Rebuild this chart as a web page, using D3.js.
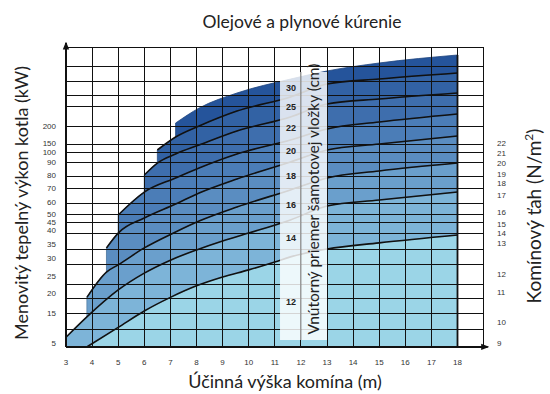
<!DOCTYPE html>
<html lang="sk">
<head>
<meta charset="UTF-8">
<title>Olejové a plynové kúrenie</title>
<script src="https://d3js.org/d3.v7.min.js"></script>
<style>
    body { margin: 0; background: #fff; }
    svg { display: block; font-family: Lato, "Open Sans", sans-serif; }
    .tick { font-family: "Liberation Sans", Arial, sans-serif; font-size: 8px; fill: #333; }
    .band-label { font-family: "Liberation Sans", Arial, sans-serif; font-size: 9px; font-weight: bold; fill: #222; }
</style>
</head>
<body>
<svg id="chart" width="550" height="394"></svg>
<script>
// vyska komina (m) - popisky osi x
const heights = d3.range(3, 19);
// vykon kotla (kW) - popisky lavej osi
const powerTicks = [5, 15, 20, 25, 30, 35, 40, 45, 50, 60, 70, 80, 90, 100, 150, 200];
// kominovy tah (N/m2) - popisky pravej osi
const draftTicks = [9, 10, 11, 12, 13, 14, 15, 16, 17, 18, 19, 20, 21, 22];
// vodorovne ciary mriezky (kW)
const gridPower = [9.5, 14.7, 18.7, 22.4, 28.1, 33.2, 38.9, 44.4, 50, 59, 70, 79, 90, 100, 144, 200, 256, 291, 332, 376, 432];
const powerMin = 3.7, powerMax = 432;

// vnutorny priemer vlozky (cm)
const diameters = [12, 14, 16, 18, 20, 22, 25, 30];
// horna hranica pasma pre kazdy priemer: [vyska m, vykon kW]
const curve12 = [[3.8, 3.7], [5, 10.2], [6, 15.5], [7, 18.9], [8, 22.1], [9, 24.7], [10, 26.7], [11, 28.9], [11.6, 30.4], [13, 33.2], [15, 35.4], [18, 38.2]];
const curve14 = [[3, 6.9], [3.8, 13.7], [5, 20.9], [6, 25.8], [7, 29.4], [8, 32.9], [9, 36.1], [10, 38.9], [11.6, 46.3], [13, 56.7], [15, 61.4], [18, 67.1]];
const curve16 = [[3.8, 18.9], [4.55, 26.1], [5, 28.1], [6, 33.6], [7.2, 39.3], [8.1, 45.6], [9.55, 55.8], [11.6, 68.6], [13, 77.7], [15, 83.1], [18, 89.2]];
const curve18 = [[4.55, 33.6], [5, 38.9], [6, 47.5], [7.2, 58.3], [8.1, 66.4], [9.55, 76.9], [11.6, 90], [13, 111.1], [15, 144.4], [18, 170.6]];
const curve20 = [[5, 49.4], [6, 67.1], [7.2, 77.7], [8.1, 85.4], [9.55, 98], [11.6, 158.8], [13, 191.2], [15, 211.8], [18, 235.3]];
const curve22 = [[6, 80], [6.5, 89.2], [7.2, 98], [8.1, 138.9], [9.55, 185.3], [11.6, 226.5], [13, 264.7], [15, 279.4], [18, 297.1]];
const curve25 = [[6.5, 111.1], [7.2, 167.6], [8.1, 200], [9.55, 244], [11.6, 285.3], [13, 323.5], [15, 338.2], [18, 355.9]];
const curve30 = [[7.2, 208.8], [8.1, 252.9], [9.55, 297], [11.6, 338], [13, 361.8], [15, 385.3], [18, 408.8]];
const curves = [curve12, curve14, curve16, curve18, curve20, curve22, curve25, curve30];

const colors = ["#9bd5e7", "#7db4d8", "#6a9fcc", "#5a8dc1", "#4b7db7", "#3e6ead", "#3262a4", "#25549b"];

const svg = d3.select("#chart");

// x os - linearna, y os - nomogram s nerovnomernym delenim
const x = d3.scaleLinear().domain([3, 19]).range([66, 483.6]);
const y = d3.scaleLinear()
    .domain(powerTicks)
    .range([343, 313, 293, 276, 258, 244, 230, 222, 214, 202, 188, 175, 162, 152, 143, 126]);
const yDraft = d3.scaleLinear()
    .domain(draftTicks)
    .range([343, 322, 292, 274, 243, 233, 224, 212, 195, 183, 174, 163, 153, 143]);

const yBottom = y(powerMin), yTop = y(powerMax);

// pasma - od najvyssieho po najnizsie, kazde az po os x
const area = d3.area()
    .x(d => x(d[0]))
    .y0(yBottom)
    .y1(d => y(d[1]))
    .curve(d3.curveMonotoneX);

for (let i = diameters.length - 1; i >= 0; i--) {
    svg.append("path")
        .datum(curves[i])
        .attr("d", area)
        .attr("fill", colors[i])
        .attr("stroke", d3.color(colors[i]).darker(0.6))
        .attr("stroke-width", 0.8);
}

// mriezka
const grid = svg.append("g")
    .attr("stroke", "#111")
    .attr("stroke-width", 1)
    .attr("shape-rendering", "crispEdges");
grid.selectAll(".v").data(d3.range(4, 20)).enter().append("line")
    .attr("x1", d => x(d)).attr("x2", d => x(d))
    .attr("y1", yBottom).attr("y2", yTop);
grid.selectAll(".h").data(gridPower).enter().append("line")
    .attr("x1", x(3)).attr("x2", x(19))
    .attr("y1", d => y(d)).attr("y2", d => y(d));

// krivky (hranice pasiem)
const line = d3.line()
    .x(d => x(d[0]))
    .y(d => y(d[1]))
    .curve(d3.curveMonotoneX);
svg.append("g").selectAll("path")
    .data(curves.slice(0, 7))
    .enter().append("path")
    .attr("d", line)
    .attr("fill", "none")
    .attr("stroke", "#111")
    .attr("stroke-width", 1.6);

// svetly pas s popisom priemerov
const stripX0 = x(11.2), stripX1 = x(13.0);
svg.append("rect")
    .attr("x", stripX0).attr("y", 72)
    .attr("width", stripX1 - stripX0).attr("height", 340 - 72)
    .attr("fill", "#fff").attr("opacity", 0.82);
svg.append("line")
    .attr("x1", x(12)).attr("x2", x(12))
    .attr("y1", 72).attr("y2", 340)
    .attr("stroke", "#333").attr("stroke-width", 1).attr("opacity", 0.6);

// hodnota krivky v pixeloch pre danu vysku
function curveY(pts, h) {
    const p = pts.map(d => [x(d[0]), y(d[1])]);
    const px = x(h);
    for (let i = 1; i < p.length; i++) {
        if (px <= p[i][0]) {
            const t = (px - p[i - 1][0]) / (p[i][0] - p[i - 1][0]);
            return p[i - 1][1] + t * (p[i][1] - p[i - 1][1]);
        }
    }
    return p[p.length - 1][1];
}

const labelH = 11.62;
diameters.forEach((d, i) => {
    const upper = curveY(curves[i], labelH);
    const lower = i === 0 ? yBottom : curveY(curves[i - 1], labelH);
    svg.append("text")
        .attr("class", "band-label")
        .attr("x", x(labelH))
        .attr("y", (upper + lower) / 2)
        .attr("dy", "0.35em")
        .attr("text-anchor", "middle")
        .text(d);
});

svg.append("text")
    .attr("transform", `translate(${x(12.7)},199) rotate(-90)`)
    .attr("text-anchor", "middle")
    .attr("font-size", 15.5)
    .attr("fill", "#222")
    .text("Vnútorný priemer šamotovej vložky (cm)");

// osi so sipkami
svg.append("defs").append("marker")
    .attr("id", "arrow")
    .attr("viewBox", "0 0 10 10")
    .attr("refX", 8).attr("refY", 5)
    .attr("markerWidth", 4).attr("markerHeight", 4)
    .attr("orient", "auto")
    .append("path").attr("d", "M0,1 L10,5 L0,9 Z").attr("fill", "#111");

svg.append("line")
    .attr("x1", x(3)).attr("x2", x(3))
    .attr("y1", yBottom).attr("y2", yTop - 4)
    .attr("stroke", "#111").attr("stroke-width", 2)
    .attr("marker-end", "url(#arrow)");
svg.append("line")
    .attr("x1", x(3)).attr("x2", x(19) + 4)
    .attr("y1", yBottom).attr("y2", yBottom)
    .attr("stroke", "#111").attr("stroke-width", 2)
    .attr("marker-end", "url(#arrow)");
svg.append("line")
    .attr("x1", x(18)).attr("x2", x(18))
    .attr("y1", yBottom).attr("y2", y(curve30[curve30.length - 1][1]))
    .attr("stroke", "#111").attr("stroke-width", 1.8);

// popisky osi
svg.selectAll(".xt").data(heights).enter().append("text")
    .attr("class", "tick")
    .attr("x", d => x(d)).attr("y", 365)
    .attr("text-anchor", "middle")
    .text(d => d);

svg.selectAll(".yt").data(powerTicks).enter().append("text")
    .attr("class", "tick")
    .attr("x", 56).attr("y", d => y(d))
    .attr("dy", "0.35em")
    .attr("text-anchor", "end")
    .text(d => d);

svg.selectAll(".rt").data(draftTicks).enter().append("text")
    .attr("class", "tick")
    .attr("x", 497).attr("y", d => yDraft(d))
    .attr("dy", "0.35em")
    .text(d => d);

// nadpisy
svg.append("text")
    .attr("x", 302).attr("y", 28)
    .attr("text-anchor", "middle")
    .attr("font-size", 17.5)
    .attr("fill", "#222")
    .text("Olejové a plynové kúrenie");

svg.append("text")
    .attr("x", 285).attr("y", 388)
    .attr("text-anchor", "middle")
    .attr("font-size", 18)
    .attr("fill", "#222")
    .text("Účinná výška komína (m)");

svg.append("text")
    .attr("transform", "translate(28,203) rotate(-90)")
    .attr("text-anchor", "middle")
    .attr("font-size", 18)
    .attr("fill", "#222")
    .text("Menovitý tepelný výkon kotla (kW)");

const rt = svg.append("text")
    .attr("transform", "translate(541,216) rotate(-90)")
    .attr("text-anchor", "middle")
    .attr("font-size", 19)
    .attr("fill", "#222");
rt.append("tspan").text("Komínový ťah (N/m");
rt.append("tspan").attr("dy", -8).attr("font-size", 12).text("2");
rt.append("tspan").attr("dy", 8).text(")");
</script>
</body>
</html>
